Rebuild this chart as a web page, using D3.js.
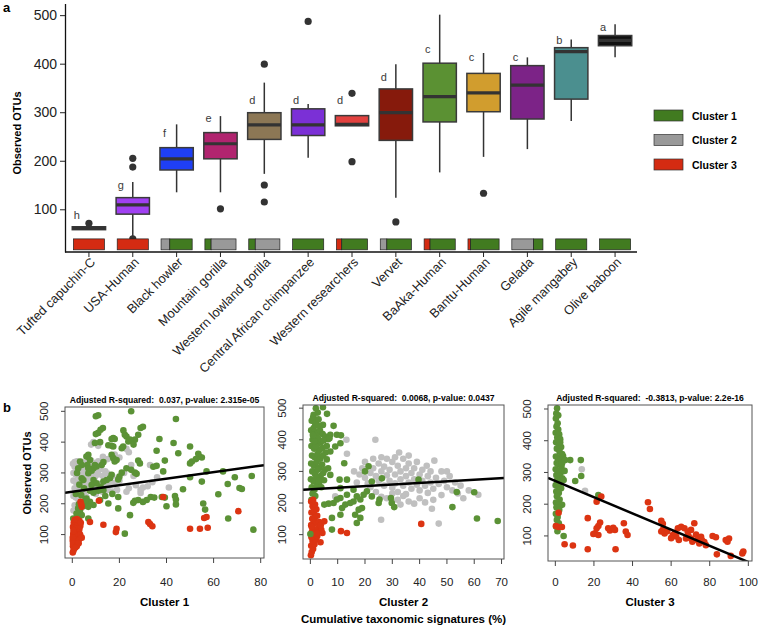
<!DOCTYPE html>
<html>
<head>
<meta charset="utf-8">
<script src="https://cdn.jsdelivr.net/npm/d3@7/dist/d3.min.js"></script>
<style>
body{margin:0;background:#fff;}
text{font-family:"Liberation Sans",Arial,Helvetica,sans-serif;}
</style>
</head>
<body>
<div id="chart"></div>
<script>
// ---------- panel a : boxplots ----------
var groups = ["Tufted capuchin-C","USA-Human","Black howler","Mountain gorilla","Western lowland gorilla",
  "Central African chimpanzee","Western researchers","Vervet","BaAka-Human","Bantu-Human","Gelada",
  "Agile mangabey","Olive baboon"];
var boxColors = ["#333333","#a040f2","#1f3ff5","#b1246f","#8c7755","#7b30d6","#e2413f","#861a0c",
  "#5b9133","#d19d2e","#7c2387","#4b8f8f","#111111"];
var whiskLo = [58, 45, 135, 135, 173, 206, 272, 124, 176, 208, 224, 282, 413];
var q1      = [58, 90, 181, 204, 244, 252, 272, 242, 280, 301, 286, 327, 437];
var med     = [61, 109, 204, 235, 274, 274, 275, 299, 332, 340, 356, 425, 448];
var q3      = [64, 124, 227, 258, 299, 307, 293, 348, 401, 380, 396, 433, 458];
var whiskHi = [64, 156, 275, 292, 361, 317, 293, 399, 501, 422, 413, 450, 481];
var outliers = [[0,71],[1,205],[1,187],[1,39],[3,101],[4,399],[4,150],[4,115],[5,487],
  [6,339],[6,198],[7,74],[9,133]];
var sigLetters = ["h","g","f","e","d","d","d","d","c","c","c","b","a"];
var sigY = [88, 150, 257, 288, 325, 325, 325, 373, 430, 413, 413, 449, 476];
var yTicksTop = [100, 200, 300, 400, 500];

// cluster composition of each group (fractions), drawn in the order of segOrder
var frac1 = [0, 0, 0.72, 0.2, 0.21, 1, 0.83, 0.79, 0.81, 0.915, 0.3, 1, 1];
var frac2 = [0, 0, 0.28, 0.8, 0.79, 0, 0, 0.21, 0, 0, 0.7, 0, 0];
var frac3 = [1, 1, 0, 0, 0, 0, 0.17, 0, 0.19, 0.085, 0, 0, 0];
var segOrder = ["3","3","21","12","12","1","31","21","31","31","21","1","1"];
var clusterNames = ["Cluster 1","Cluster 2","Cluster 3"];
var clusterFill = {"1":"#417b20","2":"#999999","3":"#d42b12"};

// ---------- panel b : scatter plots ----------
var p1Gray = [[0.3,330],[1,335],[2,338],[3,332],[4,336],[5,330],[6,334],[7,328],[8,340],[9,332],[10,325],[11,338],
 [12,330],[1,320],[2,315],[3,322],[4,310],[5,318],[6,312],[7,305],[8,318],[9,300],[10,310],[12,312],[14,305],
 [0.5,300],[1.5,295],[2.5,290],[3.5,298],[4.5,288],[5.5,296],[6.5,285],[8,292],[9.5,285],[11,295],[13,290],
 [15,298],[17,290],[0.5,275],[1.5,270],[2.5,262],[3.5,278],[4.5,268],[5.5,258],[6.5,272],[7.5,262],[9,268],
 [10.5,258],[12,265],[14,258],[16,262],[18,268],[20,275],[1,250],[2,245],[3,240],[4,252],[5,236],[6,248],
 [8,242],[10,232],[13,238],[15,245],[17,240],[0.5,225],[1.5,220],[2.5,215],[3,205],[4,228],[6,222],[1,195],
 [2,188],[0.5,178],[9,400],[8,392],[11,388],[24,367],[23,378],[25,326],[33,326],[41,253],[36,286],[32,257],
 [30,253],[29,245],[23,239],[27,260],[34,270],[20,350],[18,360],[15,345],[13,352],[22,300],[26,290],[24,250],
 [29,235],[19,245]];
var p1Green = [[25,500],[10,484],[11,487],[44,475],[30,450],[29,446],[13,446],[12,440],[11,430],[10,426],
 [21.7,438],[22.3,424],[23,418],[17.4,413],[18,410],[16.7,410],[28,424],[26.6,408],[24.5,408],[23.8,402],
 [37,410],[11.8,400],[9.6,397],[15.3,390],[16.7,388],[17.4,386],[21,380],[21.6,386],[26,392],[43,397],
 [50,386],[35.8,372],[45,364],[53.5,362],[54,353],[55,350],[52.5,345],[50.8,337],[50,331],[39.3,340],
 [28,340],[28.7,331],[16.7,359],[17.4,348],[18.8,342],[18,337],[13.2,335],[12.5,326],[6.8,359],[6,353],
 [7.5,342],[9.6,326],[10.3,321],[9,315],[8.2,307],[6.8,299],[4,283],[4.7,277],[23,315],[25,310],[26.6,301],
 [27.3,297],[21,301],[20,288],[19.5,279],[16.7,294],[16,283],[14.6,277],[13.2,272],[34.4,320],[35.8,323],
 [38.6,305],[50,286],[57,305],[64,305],[69,286],[76.2,290],[55,272],[66,264],[71,251],[72,248],[47,247],
 [43.6,225],[44,214],[38,222],[39.3,220],[33.3,222],[34.8,220],[31.6,212],[30,206],[28,212],[26.6,210],
 [25.9,203],[19.5,222],[19.5,185],[15.3,201],[11.8,212],[24.5,163],[22.3,103],[40,192],[44,198],[55.6,201],
 [56.4,181],[62,231],[66.2,152],[76.9,116],[7.5,206],[6,217],[5.4,201],[4.7,192],[9,196],[6.8,190],
 [6.8,152],[2.5,185],[3.3,179],[1.8,168],[4,163],[0.4,152],[13.2,244],[11,242],[9,236],[7.5,242],[3.3,337],
 [4,326],[2.5,315],[6.4,326],[6.8,315],[9,277],[10.3,266],[8.2,261],[2,300],[3,262],[5,250],[1.5,232],
 [3.8,228],[5.5,212],[2.8,198],[12,255],[14,225],[17,232]];
var p1Red = [[0.2,42],[0.5,48],[0.8,55],[0.3,62],[1,68],[0.6,75],[1.5,72],[0.2,80],[1.2,85],[2,88],[0.8,92],
 [1.6,98],[2.5,95],[0.4,102],[1.1,108],[2,105],[2.8,110],[0.7,115],[1.5,118],[2.3,122],[3,118],[0.3,125],
 [1,130],[1.8,128],[2.6,132],[3.4,128],[0.6,138],[1.4,142],[2.2,140],[3,145],[1,148],[2,150],[0.3,70],
 [2.2,78],[2.9,85],[3.3,100],[1.9,62],[0.9,100],[0.2,90],[2.7,72],[1.3,58],[3.6,138],[4,90],[0.5,112],
 [38.6,222],[11.3,210],[3.5,206],[4,190],[3.8,198],[7.5,141],[13.2,132],[18.8,119],[18.5,108],[32.3,141],
 [33,134],[34,127],[50,119],[54.2,119],[57.5,122],[56,154],[57,157],[70.5,176]];

var p2Gray = [[13.2,400],[23.8,400],[32.5,360],[45.4,334],[25.9,147],[44.5,182],[47,135],[13.4,356],[9.1,221],
 [61.5,226],[50,300],[42.6,318],[18,290],[20,280],[21,262],[22,295],[23,310],[24,285],[25,270],[25,325],
 [26,300],[27,255],[27,315],[28,288],[28,340],[29,270],[29,305],[30,330],[30,248],[31,290],[31,262],[32,318],
 [32,235],[33,300],[33,275],[34,340],[34,255],[35,310],[35,285],[35,228],[36,265],[36,325],[37,295],[37,245],
 [38,310],[38,275],[39,258],[39,330],[40,290],[40,240],[41,270],[41,305],[42,255],[43,285],[43,232],[44,300],
 [44,265],[45,245],[46,280],[47,260],[48,300],[48,225],[49,270],[50,250],[51,285],[52,240],[53,265],[54,230],
 [55,255],[56,215],[58,240],[20,330],[22,250],[24,235],[26,220],[28,215],[30,205],[32,210],[34,222],[36,205],
 [38,198],[26,345],[31,345],[36,350],[30,230],[40,215],[42,202],[45,210],[33,195],[23,340],[19,310],[17,265],
 [16,300]];
var p2Green = [[4.6,503],[2.7,486],[1.2,479],[6.1,482],[1.8,447],[1.2,437],[4.6,447],[8.5,444],[7.3,416],
 [9.7,416],[11.2,414],[11,389],[9.1,379],[7.3,363],[12.4,326],[7.3,289],[10.7,274],[13.4,274],[11,247],
 [20,300],[21.3,316],[22.5,268],[26.2,278],[39.6,274],[25.3,211],[25,200],[29.5,216],[29.8,200],[30.7,187],
 [22.5,221],[20.7,237],[19.5,226],[18.3,211],[17,221],[15.8,205],[14.6,200],[18.9,184],[17.7,179],[16.4,163],
 [18.3,153],[17,137],[12.8,195],[11.6,184],[11,163],[8.5,200],[6.7,198],[5.1,195],[7.9,153],[7.9,116],
 [13.4,226],[15.8,242],[53.6,235],[60,234],[52,187],[61,151],[68.6,143],[11,216],[9.7,211],
 [0.5,460],[1,470],[2,455],[3,465],[0.3,430],[1.5,425],[2.5,420],[3.5,430],[4.5,418],[5.5,410],[6.5,402],
 [0.8,400],[1.8,395],[2.8,405],[3.8,392],[4.8,398],[0.4,380],[1.4,372],[2.4,385],[3.4,368],[4.4,375],
 [5.6,360],[0.6,350],[1.6,345],[2.6,355],[3.6,340],[4.6,350],[6,338],[0.3,325],[1.3,318],[2.3,330],[3.3,312],
 [4.3,322],[5.3,305],[0.7,300],[1.7,292],[2.7,305],[3.7,285],[4.7,295],[6.5,310],[0.2,275],[1.2,268],
 [2.2,280],[3.2,260],[5,272],[0.5,250],[1.5,242],[2.5,255],[0.8,230],[1.8,222],[0.4,210],[2,380],[0.9,415],
 [3,445],[2,500],[1.5,395],[7,405],[6,380],[3,270],[4,250]];
var p2Red = [[0.2,35],[0.5,45],[1,55],[0.3,65],[1.5,70],[0.8,80],[2,85],[0.4,92],[1.2,100],[2.5,95],[3,110],
 [0.6,110],[1.8,115],[2.8,120],[3.5,125],[0.3,130],[1.1,135],[2.1,138],[3.2,140],[4,115],[0.7,150],[1.6,155],
 [2.5,160],[0.4,170],[1.3,175],[2.2,180],[0.8,190],[1.7,195],[0.3,205],[1,210],[0.5,125],[2.4,105],[4.4,105],
 [3.8,130],[40.6,134],[11.2,111],[13.4,105],[5.1,142],[3.7,76]];
var p2GreenTop = [[0,102]];

var p3Gray = [[13.7,310],[15.4,242],[0,259],[0.5,290],[0.3,205]];
var p3Green = [[0.9,502],[0.5,486],[0.3,470],[1.2,455],[0.6,445],[1.5,435],[0.2,425],[2,420],[1,410],[2.5,405],
 [0.4,395],[1.8,388],[3,380],[0.8,375],[2.2,365],[3.5,358],[0.3,350],[1.4,345],[2.6,340],[4,352],[0.7,330],
 [1.9,325],[3.2,320],[0.2,310],[1.3,305],[2.8,300],[4.2,305],[0.6,292],[2,288],[3.6,282],[0.9,275],[2.4,268],
 [0.3,260],[1.6,255],[3,250],[0.5,240],[1.8,235],[0.8,225],[2.2,215],[0.4,205],[1.5,198],[3.5,198],[0.6,190],
 [2,182],[0.3,170],[1.2,160],[0.8,150],[1.8,140],[0.4,130],[1.1,115],[5.1,339],[7.7,339],[13.2,339],[13.4,289],
 [10.3,273],[4.3,276],[22.3,229],[4.3,100],[1.5,480],[2.5,395],[3.5,330],[4.8,305]];
var p3Red = [[0.3,131],[1.7,128],[3.4,128],[1.7,173],[4.8,74],[9.1,70],[16.8,58],[16.8,156],[21.4,208],
 [23.8,224],[23.2,142],[22.3,131],[21.4,124],[20.6,108],[22.3,103],[19.7,106],[27.4,124],[28.3,117],[30,126],
 [30.9,119],[35.5,140],[36.5,114],[37.4,103],[31.2,58],[48,206],[49,185],[54.9,148],[55.7,138],[54.9,114],
 [56.6,108],[55.7,119],[60.9,103],[62.6,98],[63.5,124],[65.2,129],[66.9,124],[68.6,113],[67.7,92],[70.3,119],
 [72,140],[72.9,104],[70.3,92],[73.8,86],[75.5,97],[77.2,81],[74.6,76],[78,71],[81.5,100],[83.2,96],[83.7,42],
 [88.3,87],[89.2,82],[90,92],[90.9,37],[96.9,45],[97.4,51],[60,93],[64,87],[69,100],[71,82],[76,86],[58,115],
 [62,110]];

var fitIntercept = [239, 243.4, 273];
var fitSlope = [1.059, 0.5, -2.553];
var fitTitles = ["Adjusted R-squared:  0.037, p-value: 2.315e-05",
  "Adjusted R-squared:  0.0068, p-value: 0.0437",
  "Adjusted R-squared:  -0.3813, p-value: 2.2e-16"];
var xTicksB = [[0,20,40,60,80],[0,10,20,30,40,50,60,70],[0,20,40,60,80,100]];
var yTicksB = [100,200,300,400,500];

var svg = d3.select("#chart").append("svg")
  .attr("width", 760).attr("height", 625);

DrawTop();
DrawBottom();

function DrawTop()
{
  var x = d3.scaleBand().domain(groups).range([67, 637]);
  var y = d3.scaleLinear().domain([12, 524]).range([252, 3.5]);
  var bw = x.bandwidth() * 0.76;
  var cw = x.bandwidth() * 0.71;
  var g = svg.append("g");

  svg.append("text").attr("x", 3).attr("y", 12).text("a")
    .style("font-weight", "bold").style("font-size", "13px");

  // axes
  var ya = g.append("g").attr("transform", "translate(65,0)")
    .call(d3.axisLeft(y).tickValues(yTicksTop).tickSize(5).tickSizeOuter(0));
  ya.selectAll("text").style("font-size", "14px").attr("fill", "#222");
  ya.select(".domain").attr("stroke", "#111").attr("stroke-width", 1.3);
  ya.selectAll(".tick line").attr("stroke", "#222");

  var xa = g.append("g").attr("transform", "translate(0,252)")
    .call(d3.axisBottom(x).tickSize(5).tickSizeOuter(0));
  xa.select(".domain").attr("stroke", "#111").attr("stroke-width", 1.3).attr("d", "M65,0H637");
  xa.selectAll(".tick line").attr("stroke", "#222");
  xa.selectAll("text")
    .style("font-size", "12.8px").attr("fill", "#222")
    .attr("text-anchor", "end")
    .attr("dy", null).attr("y", 0)
    .attr("transform", "translate(7,11) rotate(-45)");

  svg.append("text")
    .attr("transform", "translate(21,133) rotate(-90)")
    .attr("text-anchor", "middle")
    .style("font-weight", "bold").style("font-size", "11px")
    .text("Observed OTUs");

  // whiskers
  g.selectAll(".whisk").data(groups).enter().append("line")
    .attr("x1", function(d){ return x(d) + x.bandwidth()/2; })
    .attr("x2", function(d){ return x(d) + x.bandwidth()/2; })
    .attr("y1", function(d,i){ return y(whiskLo[i]); })
    .attr("y2", function(d,i){ return y(whiskHi[i]); })
    .attr("stroke", "#333").attr("stroke-width", 1.5);

  // boxes
  g.selectAll(".box").data(groups).enter().append("rect")
    .attr("x", function(d){ return x(d) + (x.bandwidth()-bw)/2; })
    .attr("width", bw)
    .attr("y", function(d,i){ return y(q3[i]); })
    .attr("height", function(d,i){ return y(q1[i]) - y(q3[i]); })
    .attr("fill", function(d,i){ return boxColors[i]; })
    .attr("stroke", "#3a3a3a").attr("stroke-width", 1.5);

  // medians
  g.selectAll(".med").data(groups).enter().append("line")
    .attr("x1", function(d){ return x(d) + (x.bandwidth()-bw)/2; })
    .attr("x2", function(d){ return x(d) + (x.bandwidth()+bw)/2; })
    .attr("y1", function(d,i){ return y(med[i]); })
    .attr("y2", function(d,i){ return y(med[i]); })
    .attr("stroke", "#333").attr("stroke-width", 3.2);

  // outliers
  g.selectAll(".out").data(outliers).enter().append("circle")
    .attr("cx", function(d){ return x(groups[d[0]]) + x.bandwidth()/2; })
    .attr("cy", function(d){ return y(d[1]); })
    .attr("r", 3.6).attr("fill", "#333");

  // significance letters
  g.selectAll(".sig").data(groups).enter().append("text")
    .attr("x", function(d){ return x(d) + x.bandwidth()/2 - 12; })
    .attr("y", function(d,i){ return y(sigY[i]) + 4; })
    .attr("text-anchor", "middle")
    .style("font-size", "11px").attr("fill", "#3a3a3a")
    .text(function(d,i){ return sigLetters[i]; });

  // cluster composition bars
  var fr = {"1":frac1, "2":frac2, "3":frac3};
  groups.forEach(function(d,i){
    var x0 = x(d) + (x.bandwidth()-cw)/2;
    segOrder[i].split("").forEach(function(c){
      var w = cw * fr[c][i];
      g.append("rect")
        .attr("x", x0).attr("width", w)
        .attr("y", y(39)).attr("height", y(16.5) - y(39))
        .attr("fill", clusterFill[c])
        .attr("stroke", "#222").attr("stroke-width", 0.7);
      x0 += w;
    });
  });

  // legend
  var lg = svg.append("g");
  clusterNames.forEach(function(n,i){
    lg.append("rect").attr("x", 654).attr("y", 110 + i*24.5)
      .attr("width", 29).attr("height", 11)
      .attr("fill", clusterFill[String(i+1)]).attr("stroke", "#333").attr("stroke-width", 0.7);
    lg.append("text").attr("x", 692).attr("y", 119.5 + i*24.5)
      .style("font-weight", "bold").style("font-size", "10.5px").text(n);
  });
}

function DrawBottom()
{
  var boxes = [
    {l:65,  r:264, t:407, b:558, xd:[-3.1,81.4], yd:[24,514]},
    {l:303, r:504, t:405, b:559, xd:[-2.7,70.9], yd:[23,510]},
    {l:548, r:752, t:405, b:561, xd:[-3.8,101.9], yd:[21,512.6]}
  ];
  var pts = [
    [[p1Gray,"#c0c0c0"],[p1Green,"#5b9236"],[p1Red,"#dc3412"]],
    [[p2Gray,"#c0c0c0"],[p2Green,"#5b9236"],[p2Red,"#dc3412"],[p2GreenTop,"#5b9236"]],
    [[p3Gray,"#c0c0c0"],[p3Green,"#5b9236"],[p3Red,"#dc3412"]]
  ];

  svg.append("text").attr("x", 3).attr("y", 412).text("b")
    .style("font-weight", "bold").style("font-size", "13px");

  boxes.forEach(function(b,k){
    var x = d3.scaleLinear().domain(b.xd).range([b.l, b.r]);
    var y = d3.scaleLinear().domain(b.yd).range([b.b, b.t]);
    var g = svg.append("g");

    svg.append("clipPath").attr("id", "clip" + k).append("rect")
      .attr("x", b.l).attr("y", b.t).attr("width", b.r - b.l).attr("height", b.b - b.t);

    var pg = g.append("g").attr("clip-path", "url(#clip" + k + ")");
    pts[k].forEach(function(s){
      pg.selectAll(null).data(s[0]).enter().append("circle")
        .attr("cx", function(d){ return x(d[0]); })
        .attr("cy", function(d){ return y(d[1]); })
        .attr("r", 3.3).attr("fill", s[1]);
    });

    pg.append("line")
      .attr("x1", x(b.xd[0])).attr("y1", y(fitIntercept[k] + fitSlope[k]*b.xd[0]))
      .attr("x2", x(b.xd[1])).attr("y2", y(fitIntercept[k] + fitSlope[k]*b.xd[1]))
      .attr("stroke", "#000").attr("stroke-width", 2.5);

    g.append("rect").attr("x", b.l).attr("y", b.t)
      .attr("width", b.r - b.l).attr("height", b.b - b.t)
      .attr("fill", "none").attr("stroke", "#555").attr("stroke-width", 1);

    // x ticks
    g.selectAll(null).data(xTicksB[k]).enter().append("line")
      .attr("x1", function(d){ return x(d); }).attr("x2", function(d){ return x(d); })
      .attr("y1", b.b).attr("y2", b.b + 5).attr("stroke", "#444");
    g.selectAll(null).data(xTicksB[k]).enter().append("text")
      .attr("x", function(d){ return x(d); }).attr("y", 586)
      .attr("text-anchor", "middle").style("font-size", "11.5px").attr("fill", "#222")
      .text(function(d){ return d; });

    // y ticks
    g.selectAll(null).data(yTicksB).enter().append("line")
      .attr("x1", b.l - 4).attr("x2", b.l)
      .attr("y1", function(d){ return y(d); }).attr("y2", function(d){ return y(d); })
      .attr("stroke", "#444");
    g.selectAll(null).data(yTicksB).enter().append("text")
      .attr("transform", function(d){ return "translate(" + (b.l - 17) + "," + y(d) + ") rotate(-90)"; })
      .attr("text-anchor", "middle").style("font-size", "11.5px").attr("fill", "#222")
      .text(function(d){ return d; });

    g.append("text").attr("x", (b.l + b.r)/2).attr("y", b.t - 4)
      .attr("text-anchor", "middle").style("font-weight", "bold").style("font-size", "8.6px")
      .style("white-space", "pre")
      .text(fitTitles[k]);

    g.append("text").attr("x", (b.l + b.r)/2).attr("y", 606)
      .attr("text-anchor", "middle").style("font-weight", "bold").style("font-size", "11.5px")
      .text(clusterNames[k]);
  });

  svg.append("text").attr("x", (303 + 504)/2).attr("y", 623)
    .attr("text-anchor", "middle").style("font-weight", "bold").style("font-size", "11.5px")
    .text("Cumulative taxonomic signatures (%)");

  svg.append("text")
    .attr("transform", "translate(31,473) rotate(-90)")
    .attr("text-anchor", "middle")
    .style("font-weight", "bold").style("font-size", "11px")
    .text("Observed OTUs");
}
</script>
</body>
</html>
